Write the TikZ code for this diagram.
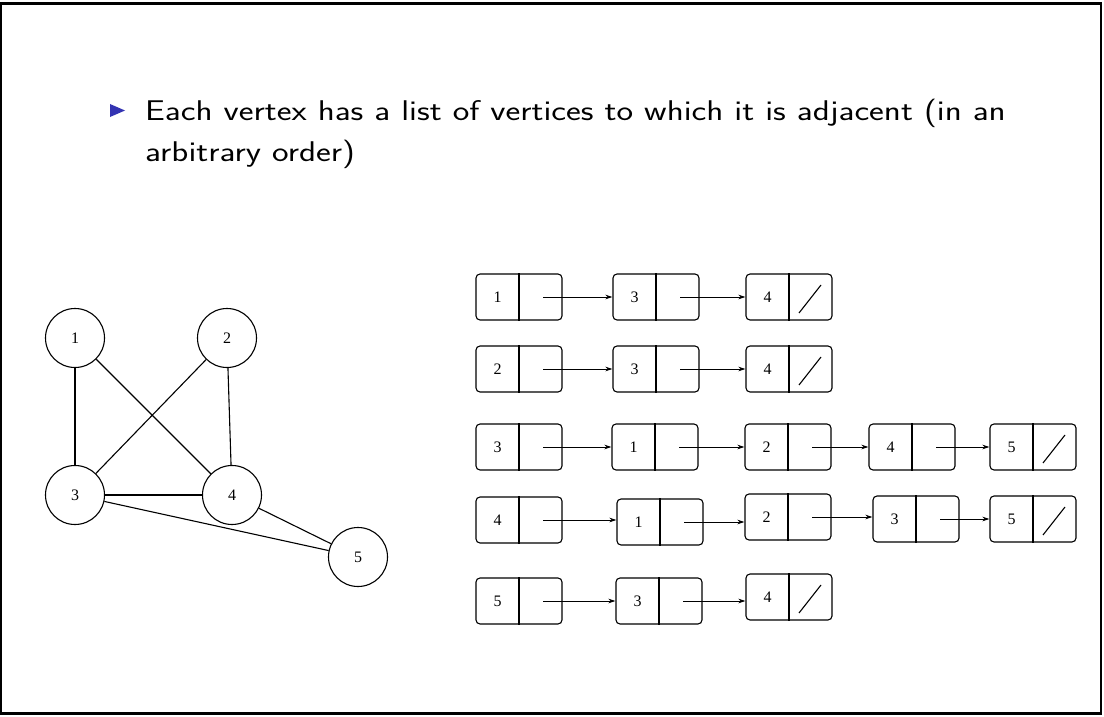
\documentclass[tikz,border=0pt]{standalone}
\usepackage{fontspec}
\newfontfamily\numfont{Liberation Serif}
\usetikzlibrary{arrows.meta,calc}
\definecolor{bulletblue}{rgb}{0.2,0.2,0.7}
\newcommand\cellnum[1]{\makebox[86pt][l]{\makebox[43pt]{#1}}}
\newcommand\wide[1]{\scalebox{1.236}[1]{#1}}
\begin{document}
\begin{tikzpicture}[x=1pt,y=-1pt,
  vert/.style={draw, circle, minimum size=59pt, inner sep=0pt, line width=1.1pt,
    font=\numfont\fontsize{16}{16}\selectfont},
  cell/.style={draw, rounded corners=4pt, minimum height=46pt, minimum width=86pt,
    inner sep=0pt, line width=1.1pt, font=\numfont\fontsize{16}{16}\selectfont},
  link/.style={-{Stealth[length=7pt,width=4.5pt]}, line width=1pt},
  gedge/.style={line width=1.1pt},
  divider/.style={line width=1.1pt},
  nilmark/.style={line width=1.1pt}
]
\useasboundingbox (0,0) rectangle (1104,717);
% slide frame
\draw[line width=1.5pt] (1,4) -- (1,713);
\draw[line width=1.5pt] (1101,4) -- (1101,713);
\draw[line width=3pt] (0,4) -- (1102,4);
\draw[line width=3pt] (0,713) -- (1102,713);

% bullet item
\fill[bulletblue] (110,104) -- (125,110.5) -- (110,117) -- cycle;
\node[anchor=north west, align=left, inner sep=0pt,
  font=\sffamily\fontsize{28.5}{41}\selectfont] (item) at (145,98.5)
  {\wide{Each vertex has a list of vertices to which it is adjacent (in an}\\
   \wide{arbitrary order)}};

% the graph
\node[vert] (v1) at (75,338) {1};
\node[vert] (v2) at (227,338) {2};
\node[vert] (v3) at (75,495) {3};
\node[vert] (v4) at (232,495) {4};
\node[vert] (v5) at (358,557) {5};
\draw[gedge] (v1) -- (v3);
\draw[gedge] (v1) -- (v4);
\draw[gedge] (v2) -- (v3);
\draw[gedge] (v2) -- (v4);
\draw[gedge] (v3) -- (v4);
\draw[gedge] (v3) -- (v5);
\draw[gedge] (v4) -- (v5);

% adjacency lists: name, position, number
\foreach \n/\x/\y/\t in {
  a1/519/297/1, a2/656/297/3, a3/789/297/4,
  b1/519/369/2, b2/656/369/3, b3/789/369/4,
  c1/519/447/3, c2/655/447/1, c3/788/447/2, c4/912/447/4, c5/1033/447/5,
  d1/519/520/4, d2/660/522/1, d3/788/517/2, d4/916/519/3, d5/1033/519/5,
  e1/519/601/5, e2/659/601/3, e3/789/597/4}{
  \node[cell] (\n) at (\x,\y) {\cellnum{\t}};
  \draw[divider] (\n.north) -- (\n.south);
}
% nil markers at list ends
\foreach \n in {a3,b3,c5,d5,e3}
  \draw[nilmark] ($(\n.center)+(10,16)$) -- ($(\n.center)+(32,-12)$);
% next pointers
\foreach \s/\t in {a1/a2,a2/a3,b1/b2,b2/b3,
  c1/c2,c2/c3,c3/c4,c4/c5,d1/d2,d2/d3,d3/d4,d4/d5,e1/e2,e2/e3}{
  \coordinate (p) at ($(\s.center)+(24,0)$);
  \draw[link] (p) -- (p -| \t.west);
}
\end{tikzpicture}
\end{document}
